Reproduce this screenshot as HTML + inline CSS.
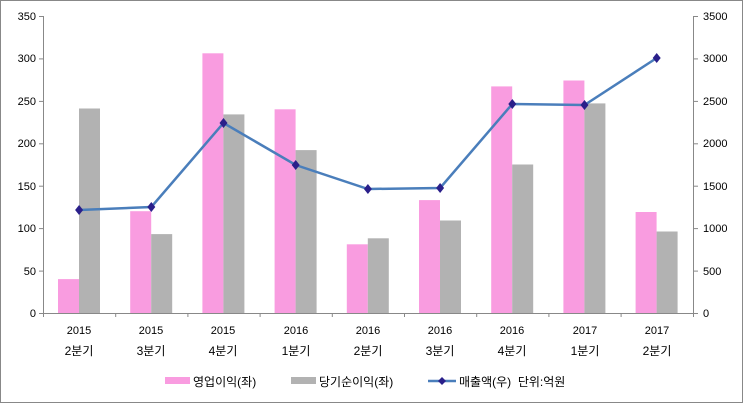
<!DOCTYPE html><html><head><meta charset="utf-8"><style>body{margin:0;background:#fff}svg{display:block}text{font-family:"Liberation Sans","Noto Sans CJK KR",sans-serif;font-size:11px;fill:#000}.q{font-size:12px}</style></head><body>
<svg width="743" height="403" xmlns="http://www.w3.org/2000/svg">
<rect x="0.5" y="0.5" width="742" height="402" fill="#fff" stroke="#888"/>
<g stroke="#888" stroke-width="1">
<line x1="43.5" y1="16" x2="43.5" y2="313"/><line x1="693.5" y1="16" x2="693.5" y2="313"/><line x1="43" y1="313.5" x2="694" y2="313.5"/>
<line x1="39" y1="16.5" x2="43" y2="16.5"/><line x1="39" y1="58.9" x2="43" y2="58.9"/><line x1="39" y1="101.4" x2="43" y2="101.4"/><line x1="39" y1="143.8" x2="43" y2="143.8"/><line x1="39" y1="186.2" x2="43" y2="186.2"/><line x1="39" y1="228.6" x2="43" y2="228.6"/><line x1="39" y1="271.1" x2="43" y2="271.1"/><line x1="39" y1="313.5" x2="43" y2="313.5"/>
<line x1="694" y1="16.5" x2="698" y2="16.5"/><line x1="694" y1="58.9" x2="698" y2="58.9"/><line x1="694" y1="101.4" x2="698" y2="101.4"/><line x1="694" y1="143.8" x2="698" y2="143.8"/><line x1="694" y1="186.2" x2="698" y2="186.2"/><line x1="694" y1="228.6" x2="698" y2="228.6"/><line x1="694" y1="271.1" x2="698" y2="271.1"/><line x1="694" y1="313.5" x2="698" y2="313.5"/>
<line x1="43.5" y1="313" x2="43.5" y2="317"/><line x1="115.7" y1="313" x2="115.7" y2="317"/><line x1="187.9" y1="313" x2="187.9" y2="317"/><line x1="260.1" y1="313" x2="260.1" y2="317"/><line x1="332.3" y1="313" x2="332.3" y2="317"/><line x1="404.5" y1="313" x2="404.5" y2="317"/><line x1="476.7" y1="313" x2="476.7" y2="317"/><line x1="548.9" y1="313" x2="548.9" y2="317"/><line x1="621.1" y1="313" x2="621.1" y2="317"/><line x1="693.5" y1="313" x2="693.5" y2="317"/>
</g>
<g text-anchor="end"><text x="36" y="20">350</text><text x="36" y="62">300</text><text x="36" y="105">250</text><text x="36" y="147">200</text><text x="36" y="190">150</text><text x="36" y="232">100</text><text x="36" y="275">50</text><text x="36" y="317">0</text></g>
<g><text x="703" y="20">3500</text><text x="703" y="62">3000</text><text x="703" y="105">2500</text><text x="703" y="147">2000</text><text x="703" y="190">1500</text><text x="703" y="232">1000</text><text x="703" y="275">500</text><text x="703" y="317">0</text></g>
<g fill="#f99ce0">
<rect x="58" y="279.1" width="21" height="33.9"/><rect x="130.2" y="211.2" width="21" height="101.8"/><rect x="202.4" y="53.3" width="21" height="259.7"/><rect x="274.6" y="109.3" width="21" height="203.7"/><rect x="346.8" y="244.3" width="21" height="68.7"/><rect x="419" y="200.1" width="21" height="112.9"/><rect x="491.2" y="86.4" width="21" height="226.6"/><rect x="563.4" y="80.5" width="21" height="232.5"/><rect x="635.6" y="212" width="21" height="101"/></g>
<g fill="#b2b2b2">
<rect x="79" y="108.5" width="21" height="204.5"/><rect x="151.2" y="234.1" width="21" height="78.9"/><rect x="223.4" y="114.4" width="21" height="198.6"/><rect x="295.6" y="150.1" width="21" height="162.9"/><rect x="367.8" y="238.3" width="21" height="74.7"/><rect x="440" y="220.5" width="21" height="92.5"/><rect x="512.2" y="164.5" width="21" height="148.5"/><rect x="584.4" y="103.4" width="21" height="209.6"/><rect x="656.6" y="231.5" width="21" height="81.5"/></g>
<polyline fill="none" stroke="#4a7ebb" stroke-width="2.5" points="79.1,210 151.3,207 223.5,123 295.7,165 367.9,189 440.1,188 512.3,104 584.5,105 656.7,58"/>
<g fill="#2a1f8a">
<path d="M79.1,205l4,5l-4,5l-4,-5z"/><path d="M151.3,202l4,5l-4,5l-4,-5z"/><path d="M223.5,118l4,5l-4,5l-4,-5z"/><path d="M295.7,160l4,5l-4,5l-4,-5z"/><path d="M367.9,184l4,5l-4,5l-4,-5z"/><path d="M440.1,183l4,5l-4,5l-4,-5z"/><path d="M512.3,99l4,5l-4,5l-4,-5z"/><path d="M584.5,100l4,5l-4,5l-4,-5z"/><path d="M656.7,53l4,5l-4,5l-4,-5z"/></g>
<g text-anchor="middle">
<text x="79" y="334">2015</text><text class="q" x="79" y="355">2분기</text>
<text x="151" y="334">2015</text><text class="q" x="151" y="355">3분기</text>
<text x="223" y="334">2015</text><text class="q" x="223" y="355">4분기</text>
<text x="296" y="334">2016</text><text class="q" x="296" y="355">1분기</text>
<text x="368" y="334">2016</text><text class="q" x="368" y="355">2분기</text>
<text x="440" y="334">2016</text><text class="q" x="440" y="355">3분기</text>
<text x="512" y="334">2016</text><text class="q" x="512" y="355">4분기</text>
<text x="585" y="334">2017</text><text class="q" x="585" y="355">1분기</text>
<text x="657" y="334">2017</text><text class="q" x="657" y="355">2분기</text></g>
<rect x="165" y="377" width="25" height="7" fill="#f99ce0"/><text class="q" x="193" y="386">영업이익(좌)</text>
<rect x="291" y="377" width="25" height="7" fill="#b2b2b2"/><text class="q" x="319" y="386">당기순이익(좌)</text>
<line x1="428" y1="381" x2="456" y2="381" stroke="#4a7ebb" stroke-width="2.5"/><path d="M442,377l4,4l-4,4l-4,-4z" fill="#2a1f8a"/><text class="q" x="459" y="386" style="white-space:pre">매출액(우)  단위:억원</text>
</svg></body></html>
